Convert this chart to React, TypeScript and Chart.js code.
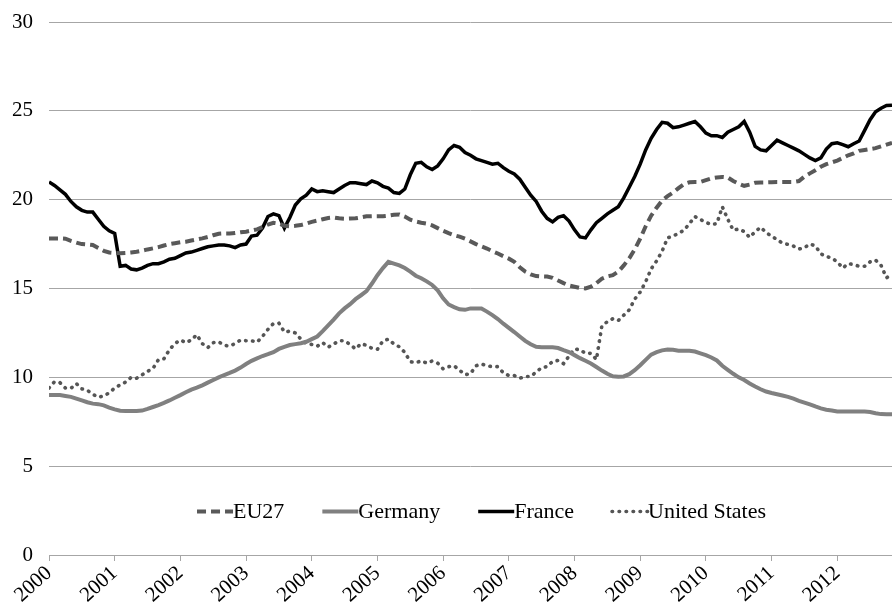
import React, { useEffect, useRef } from "react";
import { Chart, registerables } from "chart.js";

Chart.register(...registerables);

const START_YEAR = 2000;
const yearTicks = [2000, 2001, 2002, 2003, 2004, 2005, 2006, 2007, 2008, 2009, 2010, 2011, 2012];
const yTicks = [0, 5, 10, 15, 20, 25, 30];
const seriesNames = ["EU27", "Germany", "France", "United States"];

// monthly values, Jan 2000 .. Nov 2012
const eu27 = [
  17.82, 17.82, 17.82, 17.8, 17.68, 17.58, 17.5, 17.48, 17.45, 17.28, 17.12, 17.03,
  17.0, 16.98, 17.0, 17.03, 17.07, 17.13, 17.2, 17.26, 17.33, 17.42, 17.5, 17.55,
  17.6, 17.63, 17.7, 17.76, 17.82, 17.9, 18.0, 18.08, 18.1, 18.1, 18.12, 18.17,
  18.2, 18.26, 18.33, 18.45, 18.6, 18.7, 18.65, 18.53, 18.5, 18.53, 18.57, 18.65,
  18.75, 18.82, 18.9, 18.97, 19.0, 18.95, 18.93, 18.94, 18.95, 19.0, 19.06, 19.07,
  19.07, 19.07, 19.1, 19.15, 19.17, 19.05, 18.87, 18.77, 18.7, 18.65, 18.55, 18.4,
  18.25, 18.12, 18.0, 17.92, 17.8, 17.65, 17.5, 17.37, 17.25, 17.1, 16.97, 16.82,
  16.68, 16.5, 16.2, 15.95, 15.8, 15.7, 15.68, 15.67, 15.6, 15.45, 15.3, 15.17,
  15.1, 15.03, 15.0, 15.1, 15.3, 15.55, 15.68, 15.75, 15.95, 16.3, 16.7, 17.2,
  17.8, 18.5, 19.1, 19.55, 19.95, 20.2, 20.4, 20.65, 20.88, 20.98, 21.0, 21.0,
  21.1, 21.2, 21.25, 21.28, 21.25, 21.05, 20.9, 20.78, 20.85, 20.95, 20.97, 20.97,
  20.98, 21.0, 21.0, 21.0, 21.0, 21.05, 21.3, 21.48, 21.65, 21.85, 22.0, 22.1,
  22.2, 22.35, 22.5, 22.6, 22.75, 22.8, 22.85, 22.9, 23.0, 23.1, 23.2,
];

const germany = [
  9.0, 9.0, 9.0, 8.95, 8.9, 8.8, 8.7, 8.6, 8.52, 8.49, 8.42, 8.3,
  8.2, 8.12, 8.1, 8.1, 8.1, 8.13, 8.22, 8.33, 8.44, 8.56, 8.7, 8.85,
  9.0, 9.16, 9.31, 9.42, 9.55, 9.7, 9.85, 10.0, 10.13, 10.25, 10.38, 10.55,
  10.75, 10.93, 11.07, 11.2, 11.3, 11.42, 11.6, 11.72, 11.82, 11.87, 11.92, 12.0,
  12.15, 12.3, 12.6, 12.92, 13.25, 13.6, 13.88, 14.12, 14.4, 14.62, 14.85, 15.28,
  15.75, 16.15, 16.5, 16.4, 16.3, 16.15, 15.95, 15.72, 15.58, 15.4, 15.2, 14.9,
  14.45, 14.1, 13.95, 13.83, 13.8, 13.88, 13.88, 13.87, 13.7, 13.5, 13.28, 13.02,
  12.78, 12.55, 12.3, 12.05, 11.86, 11.72, 11.69, 11.69, 11.69, 11.65, 11.53, 11.42,
  11.25, 11.08, 10.93, 10.78, 10.58, 10.38, 10.2, 10.06, 10.03, 10.05, 10.18, 10.4,
  10.68, 10.98, 11.28, 11.42, 11.52, 11.57, 11.55, 11.5, 11.5, 11.5, 11.45, 11.35,
  11.25, 11.12, 10.95, 10.65, 10.42, 10.2, 10.0, 9.85, 9.65, 9.48, 9.33, 9.2,
  9.12, 9.05, 8.98, 8.9, 8.8, 8.68, 8.58, 8.48, 8.36, 8.25, 8.18, 8.13,
  8.08, 8.07, 8.07, 8.07, 8.07, 8.07, 8.05, 7.98, 7.93, 7.92, 7.92,
];

const france = [
  21.0, 20.8, 20.55, 20.3, 19.9, 19.6, 19.4, 19.3, 19.3, 18.9, 18.5, 18.25,
  18.1, 16.25, 16.3, 16.1, 16.05, 16.15, 16.3, 16.4, 16.4, 16.5, 16.65, 16.7,
  16.85, 17.0, 17.05, 17.15, 17.25, 17.35, 17.4, 17.45, 17.45, 17.4, 17.3, 17.45,
  17.5, 17.95, 18.0, 18.4, 19.05, 19.2, 19.1, 18.4, 19.0, 19.7, 20.05, 20.25,
  20.6, 20.45, 20.5, 20.45, 20.4, 20.6, 20.8, 20.95, 20.95, 20.9, 20.85, 21.05,
  20.95, 20.75, 20.65, 20.4, 20.35, 20.6, 21.4, 22.05, 22.1, 21.85, 21.7, 21.9,
  22.3, 22.8, 23.05, 22.95, 22.65, 22.5, 22.3, 22.2, 22.1, 22.0, 22.05, 21.8,
  21.6, 21.45, 21.15, 20.7, 20.25, 19.9, 19.35, 18.95, 18.75, 19.0, 19.1, 18.8,
  18.3, 17.9, 17.85, 18.3, 18.7, 18.95, 19.2, 19.4, 19.6, 20.1, 20.7, 21.3,
  22.0, 22.8, 23.45, 23.95, 24.35, 24.3, 24.05, 24.1, 24.2, 24.3, 24.4, 24.1,
  23.75, 23.6, 23.6, 23.5, 23.8, 23.95, 24.1, 24.4, 23.8, 23.0, 22.8, 22.75,
  23.05, 23.35, 23.2, 23.05, 22.9, 22.75, 22.55, 22.35, 22.2, 22.35, 22.85, 23.15,
  23.2, 23.1, 22.98, 23.15, 23.3, 23.9, 24.5, 24.95, 25.15, 25.3, 25.32,
];

const unitedStates = [
  9.4, 9.75, 9.7, 9.4, 9.38, 9.65, 9.35, 9.27, 9.05, 8.88, 8.95, 9.13,
  9.4, 9.57, 9.73, 10.0, 9.95, 10.14, 10.34, 10.5, 11.0, 11.05, 11.55, 11.9,
  12.1, 11.95, 12.1, 12.4, 11.9, 11.67, 11.95, 12.0, 11.8, 11.76, 11.9, 12.1,
  12.06, 12.06, 11.98, 12.3, 12.7, 13.03, 13.05, 12.55, 12.6, 12.5, 12.15, 11.9,
  11.85, 11.75, 11.95, 11.7, 11.87, 12.06, 12.06, 11.85, 11.6, 11.9, 11.8, 11.63,
  11.58, 12.05, 12.15, 11.88, 11.72, 11.4, 10.88, 10.82, 10.93, 10.8, 10.92, 10.8,
  10.48, 10.6, 10.65, 10.4, 10.15, 10.2, 10.65, 10.75, 10.65, 10.6, 10.6, 10.25,
  10.1, 10.1, 9.95, 10.05, 10.05, 10.3, 10.55, 10.6, 10.9, 10.95, 10.77, 11.2,
  11.6, 11.55, 11.35, 11.35, 11.0, 12.9, 13.13, 13.3, 13.2, 13.5, 13.8, 14.4,
  14.8, 15.38, 16.1, 16.55, 17.1, 17.85, 17.95, 18.1, 18.28, 18.65, 19.05, 18.88,
  18.72, 18.6, 18.65, 19.6, 18.9, 18.28, 18.35, 18.2, 17.88, 18.2, 18.45, 18.15,
  17.95, 17.75, 17.55, 17.48, 17.39, 17.22, 17.3, 17.5, 17.4, 16.95, 16.8, 16.72,
  16.5, 16.15, 16.4, 16.35, 16.25, 16.25, 16.5, 16.6, 16.3, 15.6, 15.81,
];

const FONT_FAMILY = '"Liberation Serif", "Times New Roman", serif';

const toPoints = (values: number[]) =>
  values.map((v, i) => ({ x: START_YEAR + i / 12, y: v }));

const insideLegend = {
  id: "insideLegend",
  afterDraw(chart: any) {
    const ctx = chart.ctx as CanvasRenderingContext2D;
    const area = chart.chartArea;
    ctx.save();
    ctx.font = `22px ${FONT_FAMILY}`;
    const sample = 36;
    const gap = 38;
    const items = chart.data.datasets.map((ds: any) => ({
      ds,
      w: ctx.measureText(ds.label).width,
    }));
    const total =
      items.reduce((s: number, it: any) => s + sample + it.w, 0) + gap * (items.length - 1);
    let x = (area.left + area.right) / 2 + 11 - total / 2;
    const lineY = 511.5;
    const textY = 518;
    for (const it of items) {
      const ds = it.ds;
      ctx.beginPath();
      ctx.setLineDash(ds.borderDash || []);
      ctx.lineDashOffset = 0;
      ctx.lineWidth = ds.borderWidth;
      ctx.strokeStyle = ds.borderColor;
      ctx.lineCap = ds.borderCapStyle || "butt";
      ctx.moveTo(x, lineY);
      ctx.lineTo(x + sample, lineY);
      ctx.stroke();
      ctx.setLineDash([]);
      ctx.fillStyle = "#000";
      ctx.textAlign = "left";
      ctx.textBaseline = "alphabetic";
      ctx.fillText(ds.label, x + sample, textY);
      x += sample + it.w + gap;
    }
    ctx.restore();
  },
};

export default function App() {
  const ref = useRef<HTMLCanvasElement | null>(null);

  useEffect(() => {
    if (!ref.current) return;
    const gridColor = "#a6a6a6";
    const chart = new Chart(ref.current, {
      type: "line",
      data: {
        datasets: [
          {
            label: seriesNames[0],
            data: toPoints(eu27),
            borderColor: "#595959",
            borderWidth: 4,
            borderDash: [9, 5],
            borderCapStyle: "butt",
            pointRadius: 0,
            tension: 0,
          },
          {
            label: seriesNames[1],
            data: toPoints(germany),
            borderColor: "#808080",
            borderWidth: 4,
            pointRadius: 0,
            tension: 0,
          },
          {
            label: seriesNames[2],
            data: toPoints(france),
            borderColor: "#000000",
            borderWidth: 3.5,
            pointRadius: 0,
            tension: 0,
          },
          {
            label: seriesNames[3],
            data: toPoints(unitedStates),
            borderColor: "#555555",
            borderWidth: 3.6,
            borderDash: [0.5, 6.5],
            borderCapStyle: "round",
            pointRadius: 0,
            tension: 0,
          },
        ] as any,
      },
      options: {
        animation: false,
        responsive: false,
        devicePixelRatio: 1,
        layout: { padding: { top: 22, left: 0, right: 0, bottom: 0 } },
        plugins: {
          legend: { display: false },
          tooltip: { enabled: false },
        },
        scales: {
          x: {
            type: "linear",
            min: START_YEAR,
            max: START_YEAR + (france.length - 1) / 12,
            afterBuildTicks: (axis: any) => {
              axis.ticks = yearTicks.map((v) => ({ value: v }));
            },
            afterFit: (scale: any) => {
              scale.height = 53;
            },
            grid: {
              drawOnChartArea: false,
              drawTicks: true,
              tickLength: 6,
              tickColor: gridColor,
              color: gridColor,
            },
            border: { display: true, color: gridColor, width: 1 },
            ticks: {
              autoSkip: false,
              maxRotation: 42,
              minRotation: 42,
              padding: 0,
              color: "#000",
              font: { family: FONT_FAMILY, size: 21 },
              callback: (v: any) => String(v),
            },
          },
          y: {
            type: "linear",
            min: 0,
            max: 30,
            afterBuildTicks: (axis: any) => {
              axis.ticks = yTicks.map((v) => ({ value: v }));
            },
            afterFit: (scale: any) => {
              scale.width = 49;
              scale.paddingTop = 0;
            },
            grid: {
              color: gridColor,
              lineWidth: 1,
              drawTicks: false,
            },
            border: { display: false },
            ticks: {
              padding: 16,
              color: "#000",
              font: { family: FONT_FAMILY, size: 21 },
              callback: (v: any) => String(v),
            },
          },
        },
      },
      plugins: [insideLegend],
    });
    return () => chart.destroy();
  }, []);

  return (
    <div style={{ position: "fixed", left: 0, top: 0, width: 892, height: 608, background: "#fff" }}>
      <canvas ref={ref} width={892} height={608} style={{ display: "block", width: 892, height: 608 }} />
    </div>
  );
}
